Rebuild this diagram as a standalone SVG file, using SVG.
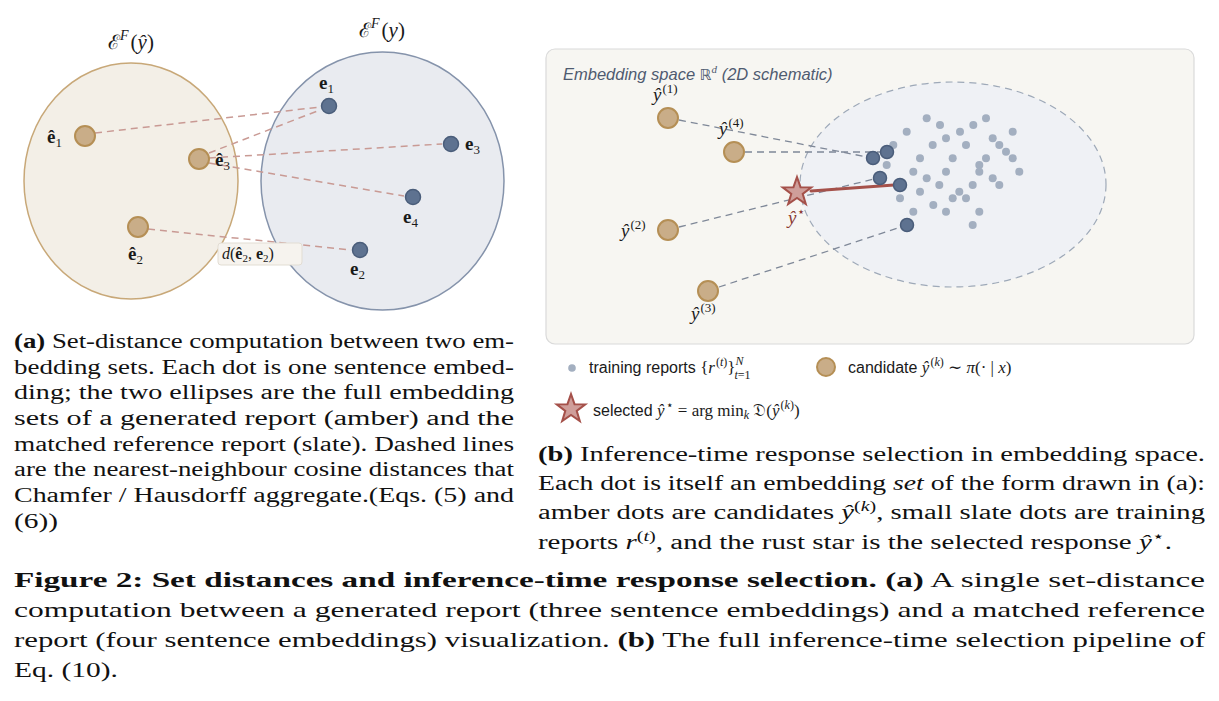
<svg xmlns="http://www.w3.org/2000/svg" width="1219" height="701" viewBox="0 0 1219 701">
<defs>
<style>
.serif{font-family:"Liberation Serif","DejaVu Serif",serif;fill:#1a1a1a}
.it{font-style:italic}
.bd{font-weight:bold}
.cap{font-family:"Liberation Serif","DejaVu Serif",serif;font-size:20px;fill:#111}
.capm{font-family:"Liberation Serif","DejaVu Serif",serif;font-size:22px;fill:#111}
.sans{font-family:"Liberation Sans","DejaVu Sans",sans-serif;font-size:16px;fill:#1a1a1a}
.amb{fill:#c9ad88;stroke:#b58f55;stroke-width:2}
.sl{fill:#5e7290;stroke:#4a5d7a;stroke-width:1.5}
.td{fill:#a3afc0}
.pd{stroke:#c99a94;stroke-width:1.5;stroke-dasharray:7 5;fill:none}
.gd{stroke:#7f8898;stroke-width:1.3;stroke-dasharray:7 5;fill:none}
.elab{font-family:"Liberation Serif","DejaVu Serif",serif;font-size:19px;font-weight:bold;fill:#1a1a1a}
.ylab{font-family:"Liberation Serif","DejaVu Serif",serif;font-size:19px;font-style:italic;fill:#1a1a1a}
.sup{font-size:13px;font-style:normal}
.m{font-family:"Liberation Serif","DejaVu Serif",serif;font-size:17px}
.ms{font-family:"Liberation Serif","DejaVu Serif",serif;font-size:12px}
</style>
<path id="star" d="M0,-15 L3.53,-4.85 L14.27,-4.64 L5.71,1.85 L8.82,12.14 L0,6 L-8.82,12.14 L-5.71,1.85 L-14.27,-4.64 L-3.53,-4.85 Z" fill="#cf9e9a" stroke="#a5514a" stroke-width="2" stroke-linejoin="miter"/>
</defs>
<rect width="1219" height="701" fill="#ffffff"/>

<!-- Panel (a) -->
<g id="set-yhat">
<ellipse cx="131" cy="181" rx="107" ry="118" fill="#f3efe7" stroke="#c8a878" stroke-width="1.5"/>
<text class="serif" x="131" y="49" font-size="21" text-anchor="middle"><tspan font-family="DejaVu Serif, serif" font-size="20">ℰ</tspan><tspan dy="-9" font-size="14" class="it">F</tspan><tspan dy="9" dx="2">(</tspan><tspan class="it">ŷ</tspan>)</text>
</g>
<g id="set-y">
<ellipse cx="382.5" cy="181" rx="121.5" ry="129" fill="#e9ebf0" stroke="#8593ab" stroke-width="1.5"/>
<text class="serif" x="382" y="37" font-size="21" text-anchor="middle"><tspan font-family="DejaVu Serif, serif" font-size="20">ℰ</tspan><tspan dy="-9" font-size="14" class="it">F</tspan><tspan dy="9" dx="2">(</tspan><tspan class="it">y</tspan>)</text>
</g>

<g id="connectors-a">
<line class="pd" x1="95" y1="133" x2="320" y2="107"/>
<line class="pd" x1="209" y1="153" x2="320" y2="110"/>
<line class="pd" x1="209" y1="158" x2="442" y2="144"/>
<line class="pd" x1="209" y1="163" x2="404" y2="196"/>
<line class="pd" x1="148" y1="229" x2="351" y2="250"/>
</g>

<g id="dist-label">
<rect x="218" y="243" width="84" height="22" rx="3" fill="#f6f3ee" stroke="#e2ddd3" stroke-width="1"/>
<text class="serif" x="222" y="259" font-size="16" fill="#2d3748"><tspan class="it">d</tspan>(<tspan class="bd">ê</tspan><tspan dy="3" font-size="11">2</tspan><tspan dy="-3">, </tspan><tspan class="bd">e</tspan><tspan dy="3" font-size="11">2</tspan><tspan dy="-3">)</tspan></text>
</g>

<g id="e1hat"><circle class="amb" cx="85" cy="136" r="10"/><text class="elab" x="47" y="143">ê<tspan dy="4" font-size="13" font-weight="normal">1</tspan></text></g>
<g id="e3hat"><circle class="amb" cx="199" cy="159" r="10"/><text class="elab" x="215" y="166">ê<tspan dy="4" font-size="13" font-weight="normal">3</tspan></text></g>
<g id="e2hat"><circle class="amb" cx="138" cy="227" r="10"/><text class="elab" x="128" y="260">ê<tspan dy="4" font-size="13" font-weight="normal">2</tspan></text></g>

<g id="e1"><circle class="sl" cx="329" cy="106" r="7.5"/><text class="elab" x="319" y="89">e<tspan dy="4" font-size="13" font-weight="normal">1</tspan></text></g>
<g id="e3"><circle class="sl" cx="451" cy="144" r="7.5"/><text class="elab" x="465" y="150">e<tspan dy="4" font-size="13" font-weight="normal">3</tspan></text></g>
<g id="e4"><circle class="sl" cx="413" cy="197" r="7.5"/><text class="elab" x="403" y="223">e<tspan dy="4" font-size="13" font-weight="normal">4</tspan></text></g>
<g id="e2"><circle class="sl" cx="360" cy="250" r="7.5"/><text class="elab" x="350" y="275">e<tspan dy="4" font-size="13" font-weight="normal">2</tspan></text></g>

<!-- Panel (b) -->
<g id="embedding-space">
<rect x="546" y="49" width="648" height="295" rx="9" fill="#f7f6f2" stroke="#dadada" stroke-width="1.2"/>
<text x="563" y="80" font-family="Liberation Sans, DejaVu Sans, sans-serif" font-size="16.5" font-style="italic" fill="#4f5b70">Embedding space <tspan font-family="DejaVu Sans, sans-serif" font-style="normal" font-size="15">ℝ</tspan><tspan dy="-7" font-size="11" font-family="Liberation Serif, serif">d</tspan><tspan dy="7">  (2D schematic)</tspan></text>
</g>
<g id="training-cloud">
<ellipse cx="953" cy="184.5" rx="153" ry="102.5" fill="#eff1f5" stroke="#9ea9b8" stroke-width="1.2" stroke-dasharray="7 5"/>
<g>
<circle class="td" cx="926.7" cy="118.3" r="4"/><circle class="td" cx="940" cy="125" r="4"/><circle class="td" cx="906.7" cy="131.7" r="4"/><circle class="td" cx="893.3" cy="145" r="4"/><circle class="td" cx="960" cy="131.7" r="4"/><circle class="td" cx="973.3" cy="125" r="4"/><circle class="td" cx="986" cy="118.3" r="4"/><circle class="td" cx="946" cy="138.3" r="4"/><circle class="td" cx="932.7" cy="145" r="4"/><circle class="td" cx="966" cy="145" r="4"/><circle class="td" cx="992.7" cy="138.3" r="4"/><circle class="td" cx="1012.7" cy="131.7" r="4"/><circle class="td" cx="999.3" cy="145" r="4"/><circle class="td" cx="1006" cy="151.7" r="4"/><circle class="td" cx="1012.7" cy="158.3" r="4"/><circle class="td" cx="986" cy="158.3" r="4"/><circle class="td" cx="979.3" cy="165" r="4"/><circle class="td" cx="979.3" cy="171.7" r="4"/><circle class="td" cx="1019.3" cy="171.7" r="4"/><circle class="td" cx="920" cy="158.3" r="4"/><circle class="td" cx="952.7" cy="158.3" r="4"/><circle class="td" cx="886.7" cy="165" r="4"/><circle class="td" cx="913.3" cy="171.7" r="4"/><circle class="td" cx="946" cy="171.7" r="4"/><circle class="td" cx="926.7" cy="178.3" r="4"/><circle class="td" cx="939.3" cy="185" r="4"/><circle class="td" cx="972.7" cy="185" r="4"/><circle class="td" cx="992.7" cy="178.3" r="4"/><circle class="td" cx="999.3" cy="185" r="4"/><circle class="td" cx="920" cy="191.7" r="4"/><circle class="td" cx="959.3" cy="191.7" r="4"/><circle class="td" cx="900" cy="198.3" r="4"/><circle class="td" cx="952.7" cy="198.3" r="4"/><circle class="td" cx="966" cy="198.3" r="4"/><circle class="td" cx="933.3" cy="205" r="4"/><circle class="td" cx="913.3" cy="211.7" r="4"/><circle class="td" cx="946" cy="211.7" r="4"/><circle class="td" cx="979.3" cy="211.7" r="4"/><circle class="td" cx="972.7" cy="225" r="4"/>
</g>
</g>

<g id="connectors-b">
<line class="gd" x1="679" y1="120" x2="867" y2="157"/>
<line class="gd" x1="745" y1="152" x2="880" y2="152"/>
<line class="gd" x1="679" y1="227" x2="874" y2="179"/>
<line class="gd" x1="719" y1="287" x2="901" y2="227"/>
<line x1="811" y1="191" x2="894" y2="185" stroke="#a5514a" stroke-width="3" stroke-linecap="round"/>
</g>

<g id="nn-1"><circle class="sl" cx="873" cy="158" r="6.5"/></g>
<g id="nn-4"><circle class="sl" cx="887" cy="152" r="6.5"/></g>
<g id="nn-2"><circle class="sl" cx="880" cy="178" r="6.5"/></g>
<g id="nn-star"><circle class="sl" cx="900" cy="185" r="6.5"/></g>
<g id="nn-3"><circle class="sl" cx="907" cy="225" r="6.5"/></g>

<g id="cand-1"><circle class="amb" cx="668" cy="118" r="10"/><text class="ylab" x="653" y="101">ŷ<tspan class="sup" dx="1" dy="-8">(1)</tspan></text></g>
<g id="cand-4"><circle class="amb" cx="734" cy="152" r="10"/><text class="ylab" x="719" y="135">ŷ<tspan class="sup" dx="1" dy="-8">(4)</tspan></text></g>
<g id="cand-2"><circle class="amb" cx="668" cy="230" r="10"/><text class="ylab" x="621" y="237">ŷ<tspan class="sup" dx="1" dy="-8">(2)</tspan></text></g>
<g id="cand-3"><circle class="amb" cx="708" cy="291" r="10"/><text class="ylab" x="691" y="320">ŷ<tspan class="sup" dx="1" dy="-8">(3)</tspan></text></g>
<g id="selected"><use href="#star" x="797" y="192"/><text class="ylab" x="788" y="224" style="fill:#8b3a33">ŷ<tspan class="sup" dx="1" dy="-8">⋆</tspan></text></g>

<!-- Legend -->
<g id="legend">
<circle class="td" cx="572" cy="368" r="3.8"/>
<text class="sans" x="589" y="373">training reports <tspan class="m">{</tspan><tspan class="m it">r</tspan><tspan class="ms" dx="1" dy="-7">(<tspan font-style="italic">t</tspan>)</tspan><tspan class="m" dy="7">}</tspan><tspan class="ms it" dy="-8">N</tspan><tspan class="ms" dx="-9" dy="14"><tspan font-style="italic">t</tspan>=1</tspan></text>
<circle class="amb" cx="826" cy="367" r="9"/>
<text class="sans" x="848" y="373">candidate <tspan class="m it">ŷ</tspan><tspan class="ms" dx="1" dy="-7">(<tspan font-style="italic">k</tspan>)</tspan><tspan class="m" dy="7"> ∼ </tspan><tspan class="m it">π</tspan><tspan class="m">(· | </tspan><tspan class="m it">x</tspan><tspan class="m">)</tspan></text>
<use href="#star" x="571" y="409"/>
<text class="sans" x="593" y="416">selected <tspan class="m it">ŷ</tspan><tspan class="ms" dx="1" dy="-7">⋆</tspan><tspan class="m" dy="7"> = arg min</tspan><tspan class="ms it" dy="3">k</tspan><tspan class="m" dy="-3"> 𝔇(</tspan><tspan class="m it">ŷ</tspan><tspan class="ms" dx="1" dy="-7">(<tspan font-style="italic">k</tspan>)</tspan><tspan class="m" dy="7">)</tspan></text>
</g>

<!-- Caption (a) -->
<g id="caption-a">
<text class="cap" x="14" y="348" textLength="500" lengthAdjust="spacingAndGlyphs"><tspan font-weight="bold">(a)</tspan> Set-distance computation between two em-</text>
<text class="cap" x="14" y="374" textLength="500" lengthAdjust="spacingAndGlyphs">bedding sets. Each dot is one sentence embed-</text>
<text class="cap" x="14" y="399" textLength="500" lengthAdjust="spacingAndGlyphs">ding; the two ellipses are the full embedding</text>
<text class="cap" x="14" y="425" textLength="500" lengthAdjust="spacingAndGlyphs">sets of a generated report (amber) and the</text>
<text class="cap" x="14" y="451" textLength="500" lengthAdjust="spacingAndGlyphs">matched reference report (slate). Dashed lines</text>
<text class="cap" x="14" y="476" textLength="500" lengthAdjust="spacingAndGlyphs">are the nearest-neighbour cosine distances that</text>
<text class="cap" x="14" y="502" textLength="500" lengthAdjust="spacingAndGlyphs">Chamfer / Hausdorff aggregate.(Eqs. (5) and</text>
<text class="cap" x="14" y="528" textLength="44" lengthAdjust="spacingAndGlyphs">(6))</text>
</g>

<!-- Caption (b) -->
<g id="caption-b">
<text class="cap" x="538" y="461" textLength="667" lengthAdjust="spacingAndGlyphs"><tspan font-weight="bold">(b)</tspan> Inference-time response selection in embedding space.</text>
<text class="cap" x="538" y="490" textLength="667" lengthAdjust="spacingAndGlyphs">Each dot is itself an embedding <tspan font-style="italic">set</tspan> of the form drawn in (a):</text>
<text class="cap" x="538" y="519" textLength="667" lengthAdjust="spacingAndGlyphs">amber dots are candidates <tspan font-style="italic">ŷ</tspan><tspan font-size="14" dy="-8">(<tspan font-style="italic">k</tspan>)</tspan><tspan dy="8">, small slate dots are training</tspan></text>
<text class="cap" x="538" y="549" textLength="634" lengthAdjust="spacingAndGlyphs">reports <tspan font-style="italic">r</tspan><tspan font-size="14" dy="-8">(<tspan font-style="italic">t</tspan>)</tspan><tspan dy="8">, and the rust star is the selected response </tspan><tspan font-style="italic">ŷ</tspan><tspan font-size="14" dy="-8">⋆</tspan><tspan dy="8">.</tspan></text>
</g>

<!-- Figure caption -->
<g id="figure-caption">
<text class="capm" x="14" y="587" textLength="1191" lengthAdjust="spacingAndGlyphs"><tspan font-weight="bold">Figure 2: Set distances and inference-time response selection. (a)</tspan> A single set-distance</text>
<text class="capm" x="14" y="617" textLength="1191" lengthAdjust="spacingAndGlyphs">computation between a generated report (three sentence embeddings) and a matched reference</text>
<text class="capm" x="14" y="647" textLength="1191" lengthAdjust="spacingAndGlyphs">report (four sentence embeddings) visualization. <tspan font-weight="bold">(b)</tspan> The full inference-time selection pipeline of</text>
<text class="capm" x="14" y="677" textLength="104" lengthAdjust="spacingAndGlyphs">Eq. (10).</text>
</g>
</svg>
